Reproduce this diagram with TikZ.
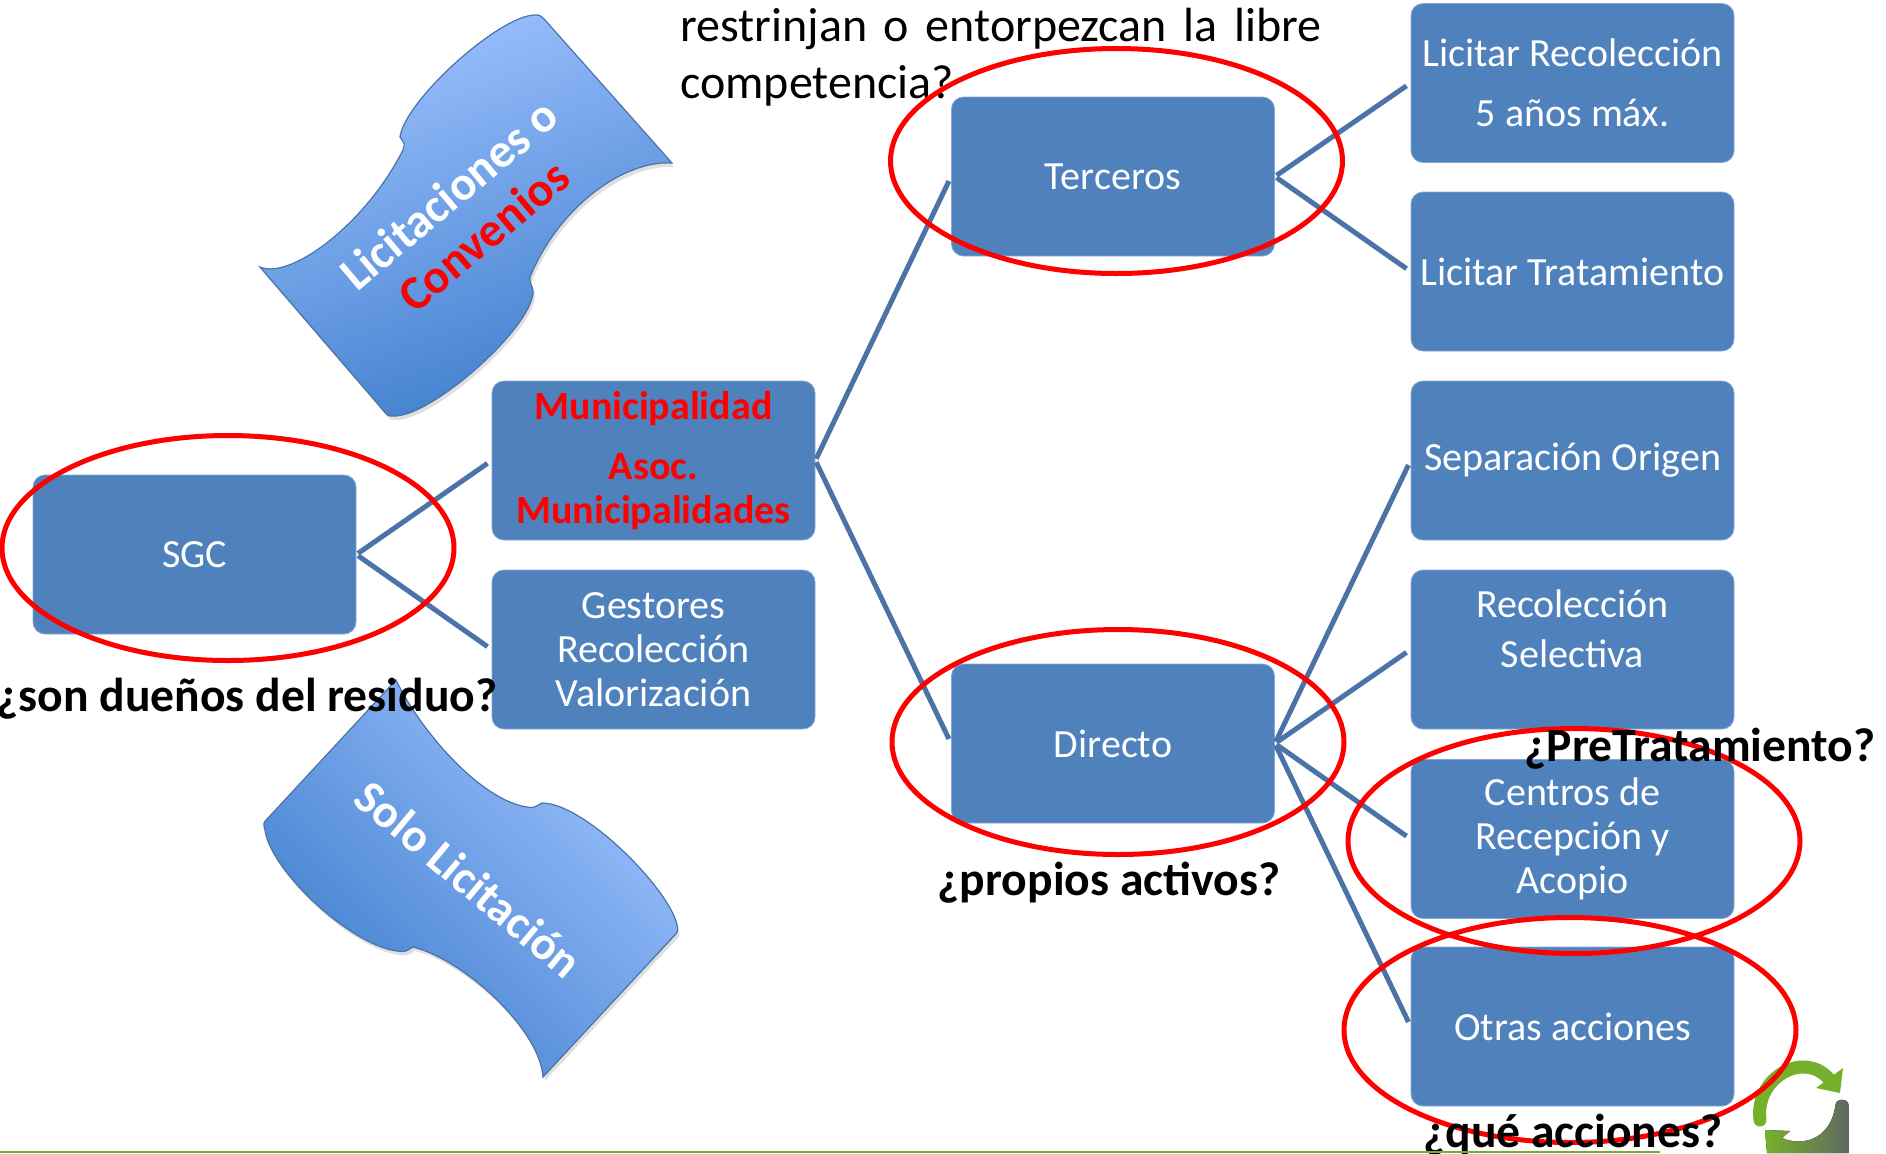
\documentclass[tikz,border=0pt]{standalone}
\usepackage{fontspec}
\setmainfont{Carlito}
\usepackage{tikz}
\usetikzlibrary{shapes.geometric,shadows}
\definecolor{boxblue}{HTML}{4F81BD}
\definecolor{linkblue}{HTML}{4A73A8}
\definecolor{wavelight}{HTML}{9CC1FF}
\definecolor{wavedark}{HTML}{3F7ECC}
\definecolor{leafgreen}{HTML}{76B02A}
\definecolor{leafgrey}{HTML}{5F6A60}

\begin{document}
\begin{tikzpicture}[x=0.5pt,y=-0.5pt,
        every node/.style={font=\fontsize{20pt}{22pt}\selectfont},
        actor/.style={fill=boxblue,draw=boxblue!70!white,rounded corners=6pt,text=white,align=center,
            minimum width=161.5pt,minimum height=79.5pt,inner sep=0pt},
        branch/.style={draw=linkblue,line width=2.5pt,shorten >=2.5pt,shorten <=1pt},
        ring/.style={ellipse,draw=red,line width=2.5pt,minimum width=226pt,minimum height=112.5pt,inner sep=0pt},
        question/.style={font=\fontsize{23.8pt}{26pt}\selectfont\bfseries,text=black,inner sep=0pt},
        wave/.style={draw=linkblue,line width=0.6pt,drop shadow={opacity=0.25,shadow xshift=1pt,shadow yshift=-2pt}},
        wavetext/.style={font=\fontsize{24pt}{26pt}\selectfont\bfseries,text=white,align=center,inner sep=0pt}]
      \useasboundingbox (0,0) rectangle (1886,1153);

      % wave shapes
      \path[wave,top color=wavelight,bottom color=wavedark,shading angle=20]
        (260,267) .. controls (290,280) and (365,225) .. (403,150)
        .. controls (405,144) .. (400,137)
        .. controls (405,100) and (500,15) .. (535,15)
        .. controls (540,15) .. (545,20) -- (672,163)
        .. controls (625,160) and (560,205) .. (530,277)
        .. controls (529,285) and (534,287) .. (533,293)
        .. controls (530,330) and (430,418) .. (393,416)
        .. controls (388,416) .. (383,410) -- cycle;
      \path[wave,top color=wavelight,bottom color=wavedark,shading angle=-45]
        (396,680) .. controls (420,730) and (480,800) .. (527,807)
        .. controls (533,808) .. (542,803)
        .. controls (585,803) and (670,890) .. (677,925)
        .. controls (678,932) .. (673,937) -- (543,1077)
        .. controls (540,1030) and (465,960) .. (413,947)
        .. controls (405,952) .. (397,951)
        .. controls (350,945) and (270,870) .. (265,830)
        .. controls (263,823) .. (268,818) -- cycle;
      \node[wavetext,rotate=40] (convenio) at (466,215) {Licitaciones o\\[1pt]\textcolor{red}{Convenios}};
      \node[wavetext,rotate=-40,font=\fontsize{23.5pt}{26pt}\selectfont\bfseries] (licitacion) at (469,879) {Solo Licitación};

      % boxes
      \node[actor] (sgc) at (194.5,554.5) {SGC};
      \node[actor,text=red,font=\fontsize{20pt}{22pt}\selectfont\bfseries] (muni) at (653.5,460.5) {Municipalidad\\[8pt]Asoc.\\Municipalidades};
      \node[actor] (gestores) at (653.5,649.5) {Gestores\\Recolección\\Valorización};
      \node[actor] (terceros) at (1113,176.5) {Terceros};
      \node[actor] (directo) at (1113,743.5) {Directo};
      \node[actor] (recoleccion) at (1572.5,83) {Licitar Recolección\\[8pt]5 años máx.};
      \node[actor] (tratamiento) at (1572.5,271.5) {Licitar Tratamiento};
      \node[actor] (separacion) at (1572.5,460.5) {Separación Origen};
      \node[actor] (selectiva) at (1572.5,649.5) {Recolección\\[3pt]Selectiva\\[-8pt]\strut};
      \node[actor] (centros) at (1572.5,839) {Centros de\\Recepción y\\Acopio};
      \node[actor] (otras) at (1572.5,1026.5) {Otras acciones};

      % connectors
      \draw[branch] (sgc.east) -- (muni.west);
      \draw[branch] (sgc.east) -- (gestores.west);
      \draw[branch] (muni.east) -- (terceros.west);
      \draw[branch] (muni.east) -- (directo.west);
      \draw[branch] (terceros.east) -- (recoleccion.west);
      \draw[branch] (terceros.east) -- (tratamiento.west);
      \draw[branch] (directo.east) -- (separacion.west);
      \draw[branch] (directo.east) -- (selectiva.west);
      \draw[branch] (directo.east) -- (centros.west);
      \draw[branch] (directo.east) -- (otras.west);

      % text at the top
      \node[font=\fontsize{24pt}{28.5pt}\selectfont,text width=320.5pt,align=justify,inner sep=0pt,anchor=north west] (pregunta) at (680,8)
        {restrinjan o entorpezcan la libre\linebreak competencia?};

      % recycling mark
      \draw[leafgreen,line width=6.5pt,line cap=round] (1760,1120) .. controls (1756,1090) and (1780,1067) .. (1803,1067) .. controls (1815,1067) and (1823,1072) .. (1830,1080);
      \fill[leafgreen] (1843,1068) -- (1840,1093) -- (1816,1088) -- cycle;
      \fill[left color=leafgreen,middle color=leafgreen!85!leafgrey,right color=leafgrey]
        (1835.5,1105) .. controls (1835.5,1098) and (1848.5,1098) .. (1848.5,1105)
        -- (1848.5,1153) -- (1767,1153) -- (1765,1130) -- (1790,1131) -- (1782,1138)
        .. controls (1800,1146) and (1830,1142) .. (1835.5,1105) -- cycle;

      % red rings
      \node[ring] (ringsgc) at (228,548) {};
      \node[ring] (ringterceros) at (1116.5,161) {};
      \node[ring] (ringdirecto) at (1118,742) {};
      \node[ring] (ringcentros) at (1574,841) {};
      \node[ring] (ringotras) at (1570,1030) {};

      % questions
      \node[question] (qsgc) at (247,699) {¿son dueños del residuo?};
      \node[question] (qdirecto) at (1109,883) {¿propios activos?};
      \node[question] (qtrata) at (1700,749) {¿PreTratamiento?};
      \node[question] (qotras) at (1573,1135) {¿qué acciones?};

      % bottom line
      \draw[leafgreen,line width=1pt] (0,1152) -- (1660,1152);
    \end{tikzpicture}
\end{document}
